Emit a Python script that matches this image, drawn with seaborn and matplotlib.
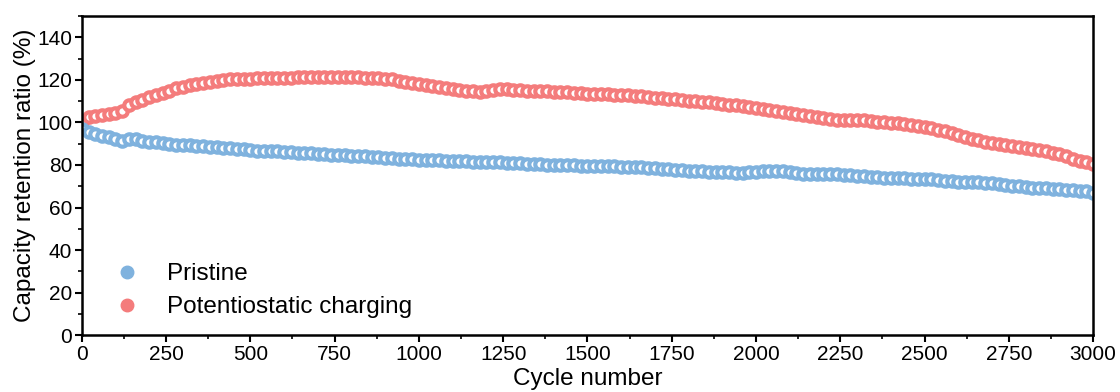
import numpy as np
import pandas as pd
import seaborn as sns
import matplotlib.pyplot as plt
from matplotlib.lines import Line2D
from matplotlib.ticker import MultipleLocator

# cycle number (one point every 20 cycles)
cycles = list(range(0, 3001, 20))

pristine = [
    97.0, 95.5, 94.5, 93.8, 93.0, 92.3, 91.3, 92.2, 92.0, 91.5,
    91.0, 90.6, 90.2, 89.8, 89.5, 89.3, 89.2, 89.0, 88.8, 88.6,
    88.4, 88.2, 87.9, 87.6, 87.3, 87.0, 86.8, 86.7, 86.6, 86.4,
    86.2, 86.0, 85.8, 85.6, 85.4, 85.2, 85.0, 84.9, 84.8, 84.6,
    84.4, 84.2, 84.0, 83.8, 83.6, 83.4, 83.2, 83.0, 82.8, 82.6,
    82.5, 82.4, 82.3, 82.2, 82.1, 82.0, 81.8, 81.7, 81.6, 81.5,
    81.4, 81.3, 81.2, 81.0, 80.9, 80.8, 80.6, 80.5, 80.3, 80.2,
    80.0, 79.9, 79.8, 79.8, 79.7, 79.6, 79.5, 79.4, 79.3, 79.3,
    79.2, 79.1, 79.0, 79.0, 78.8, 78.5, 78.2, 78.0, 77.8, 77.6,
    77.4, 77.2, 77.0, 76.9, 76.8, 76.7, 76.5, 76.3, 76.2, 76.5,
    76.8, 77.2, 77.4, 77.3, 77.0, 76.6, 76.2, 75.8, 75.6, 75.6,
    75.8, 75.9, 75.7, 75.5, 75.2, 75.0, 74.8, 74.5, 74.3, 74.1,
    74.0, 73.8, 73.7, 73.6, 73.5, 73.4, 73.2, 73.0, 72.7, 72.4,
    72.2, 72.0, 71.9, 71.8, 71.7, 71.5, 71.0, 70.5, 70.2, 70.0,
    69.7, 69.4, 69.2, 69.0, 68.8, 68.6, 68.4, 68.2, 68.0, 67.6,
    67.0,
]

potentiostatic = [
    100.0, 102.5, 103.0, 103.5, 104.0, 104.5, 105.5, 108.0, 109.5, 110.5,
    112.0, 113.0, 114.0, 115.0, 116.0, 116.8, 117.5, 118.0, 118.7, 119.2,
    119.6, 120.0, 120.3, 120.5, 120.5, 120.6, 120.7, 120.8, 120.8, 121.0,
    121.0, 121.0, 121.2, 121.2, 121.3, 121.4, 121.4, 121.5, 121.5, 121.4,
    121.5, 121.3, 121.0, 121.0, 121.0, 120.6, 120.2, 119.6, 119.0, 118.5,
    118.0, 117.6, 117.2, 116.8, 116.3, 115.8, 115.4, 115.0, 114.6, 114.4,
    114.8, 115.3, 115.5, 115.5, 115.3, 115.2, 115.0, 115.0, 114.8, 114.6,
    114.5, 114.4, 114.2, 114.0, 113.8, 113.6, 113.5, 113.4, 113.2, 113.1,
    113.0, 112.7, 112.5, 112.2, 112.0, 111.7, 111.3, 111.0, 110.8, 110.6,
    110.3, 110.0, 109.7, 109.4, 109.1, 108.8, 108.4, 108.0, 107.6, 107.2,
    106.8, 106.3, 106.0, 105.5, 104.8, 104.3, 103.8, 103.4, 103.0, 102.5,
    102.0, 101.5, 101.2, 101.0, 101.0, 101.0, 101.0, 100.8, 100.4, 100.0,
    99.6, 99.5, 99.4, 99.0, 98.5, 98.0, 97.3, 96.6, 95.8, 95.0,
    94.2, 93.3, 92.4, 91.6, 90.8, 90.2, 89.8, 89.4, 89.0, 88.6,
    88.1, 87.6, 87.0, 86.4, 85.8, 85.0, 84.0, 83.0, 82.0, 81.2,
    80.5,
]

labels = ["Pristine", "Potentiostatic charging"]
colors = ["#7fb2de", "#f47c7c"]

sns.set_theme(style="ticks", rc={"text.color": "black", "axes.labelcolor": "black",
                                 "xtick.color": "black", "ytick.color": "black"})
plt.rcParams['font.family'] = ['Liberation Sans', 'DejaVu Sans']

fig = plt.figure(figsize=(11.2, 3.92), dpi=100)
ax = fig.add_axes([0.073, 0.145, 0.903, 0.814])

df = pd.DataFrame({"cycle": cycles, labels[0]: pristine, labels[1]: potentiostatic})

# red first so blue sits on top where they meet at cycle 0
for lab, col in [(labels[1], colors[1]), (labels[0], colors[0])]:
    sns.lineplot(data=df, x="cycle", y=lab, ax=ax, linestyle="", marker="o",
                 markersize=7.5, markerfacecolor="white", markeredgecolor=col,
                 markeredgewidth=3.0, color=col)

ax.set_xlim(0, 3000)
ax.set_ylim(0, 150)
ax.xaxis.set_major_locator(MultipleLocator(250))
ax.xaxis.set_minor_locator(MultipleLocator(125))
ax.yaxis.set_major_locator(MultipleLocator(20))
ax.yaxis.set_minor_locator(MultipleLocator(10))
ax.tick_params(which="major", direction="out", length=5, width=1.5, labelsize=15, pad=2)
ax.tick_params(which="minor", direction="out", length=3, width=1.2)
for s in ax.spines.values():
    s.set_linewidth(1.8)
    s.set_color("black")

ax.set_xlabel("Cycle number", fontsize=17.5, labelpad=3)
ax.set_ylabel("Capacity retention ratio (%)", fontsize=17.5, labelpad=1)

handles = [Line2D([], [], linestyle="", marker="o", markersize=9,
                  markerfacecolor=c, markeredgecolor=c) for c in colors]
ax.legend(handles, labels, loc="lower left", bbox_to_anchor=(0.005, -0.015),
          frameon=False, fontsize=17.5, handletextpad=0.9, labelspacing=0.45,
          handlelength=1.5)

fig.savefig("out.png", dpi=100)
